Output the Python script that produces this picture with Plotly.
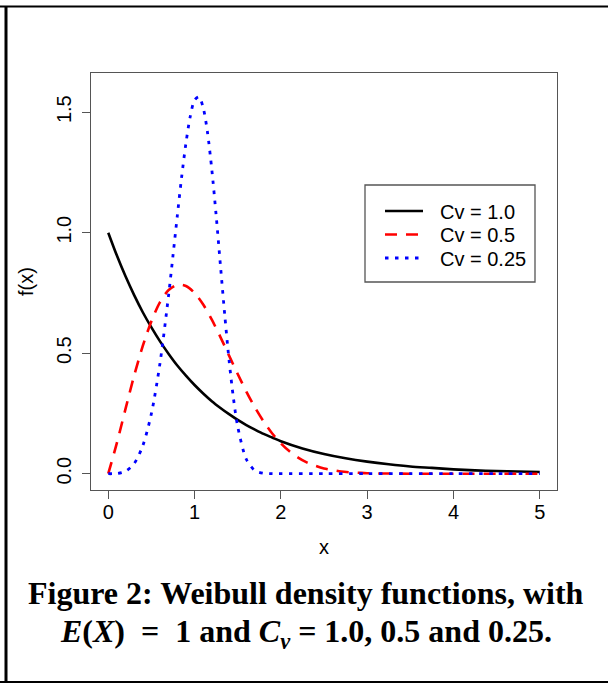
import plotly.graph_objects as go

# ---- data ----
x_cv100 = [0.0, 0.1, 0.2, 0.3, 0.4, 0.5, 0.6, 0.7, 0.8, 0.9, 1.0, 1.1, 1.2, 1.3, 1.4,
           1.5, 1.6, 1.7, 1.8, 1.9, 2.0, 2.25, 2.5, 2.75, 3.0, 3.25, 3.5, 3.75, 4.0,
           4.25, 4.5, 4.75, 5.0]
y_cv100 = [1.000, 0.905, 0.819, 0.741, 0.670, 0.607, 0.549, 0.497, 0.449, 0.407, 0.368,
           0.333, 0.301, 0.273, 0.247, 0.223, 0.202, 0.183, 0.165, 0.150, 0.135, 0.105,
           0.082, 0.064, 0.050, 0.039, 0.030, 0.024, 0.018, 0.014, 0.011, 0.009, 0.007]

x_cv050 = [0.0, 0.1, 0.2, 0.3, 0.4, 0.5, 0.6, 0.7, 0.8, 0.9, 1.0, 1.1, 1.2, 1.3, 1.4,
           1.5, 1.6, 1.7, 1.8, 1.9, 2.0, 2.1, 2.2, 2.3, 2.4, 2.5, 2.6, 2.7, 2.8, 2.9,
           3.0, 3.5, 4.0, 4.5, 5.0]
y_cv050 = [0.000, 0.128, 0.269, 0.407, 0.530, 0.633, 0.712, 0.762, 0.784, 0.779, 0.750,
           0.702, 0.639, 0.567, 0.490, 0.414, 0.341, 0.275, 0.217, 0.167, 0.126, 0.093,
           0.067, 0.047, 0.033, 0.022, 0.015, 0.009, 0.006, 0.004, 0.002, 0.000, 0.000,
           0.000, 0.000]

x_cv025 = [0.0, 0.1, 0.2, 0.3, 0.4, 0.5, 0.6, 0.7, 0.75, 0.8, 0.85, 0.9, 0.95, 1.0,
           1.05, 1.1, 1.15, 1.2, 1.25, 1.3, 1.35, 1.4, 1.45, 1.5, 1.6, 1.7, 1.8, 1.9,
           2.0, 2.5, 3.0, 3.5, 4.0, 4.5, 5.0]
y_cv025 = [0.000, 0.001, 0.010, 0.042, 0.116, 0.250, 0.460, 0.744, 0.905, 1.070, 1.230,
           1.371, 1.482, 1.550, 1.564, 1.519, 1.416, 1.262, 1.073, 0.864, 0.658, 0.471,
           0.315, 0.196, 0.060, 0.013, 0.002, 0.000, 0.000, 0.000, 0.000, 0.000, 0.000,
           0.000, 0.000]

series_names = ["Cv = 1.0", "Cv = 0.5", "Cv = 0.25"]
x_ticks = [0, 1, 2, 3, 4, 5]
y_ticks = [0.0, 0.5, 1.0, 1.5]
y_tick_labels = ["0.0", "0.5", "1.0", "1.5"]
caption_line1 = "Figure 2: Weibull density functions, with"
caption_line2 = ("<i>E</i>(<i>X</i>)\u00a0 =\u00a0 1 and <i>C<sub>v</sub></i>"
                 " = 1.0, 0.5 and 0.25.")

# ---- layout geometry (pixels) ----
W, H = 608, 684
L, R, T, B = 91, 557, 73, 490


def px(x):
    return (x - L) / (R - L)


def py(y):
    return (B - y) / (B - T)


SANS = "Liberation Sans, Arial, sans-serif"
SERIF = "Liberation Serif, Times New Roman, serif"
FS = 20

styles = [
    dict(color="#000000", width=2.6, dash="solid"),
    dict(color="#FF0000", width=2.6, dash="12px,9px"),
    dict(color="#0000FF", width=2.8, dash="3.5px,6.5px"),
]

fig = go.Figure()
for xs, ys, name, st in zip([x_cv100, x_cv050, x_cv025],
                            [y_cv100, y_cv050, y_cv025], series_names, styles):
    fig.add_trace(go.Scatter(x=xs, y=ys, mode="lines", name=name, showlegend=False,
                             line=dict(color=st["color"], width=st["width"],
                                       dash=st["dash"], shape="spline", smoothing=0.8)))

axis_common = dict(showgrid=False, zeroline=False, showline=True, mirror=True,
                   linecolor="#555555", linewidth=1.3, ticks="outside", ticklen=8,
                   tickwidth=1.2, tickcolor="#555555",
                   tickfont=dict(family=SANS, size=FS, color="#000000"))

fig.update_layout(
    width=W, height=H,
    margin=dict(l=L, r=W - R, t=T, b=H - B, autoexpand=False),
    paper_bgcolor="white", plot_bgcolor="white",
    xaxis=dict(range=[-0.2, 5.2], tickvals=x_ticks, ticktext=[str(v) for v in x_ticks],
               ticklabelstandoff=-4,
               title=dict(text="x", font=dict(family=SANS, size=FS, color="#000000"),
                          standoff=17),
               **axis_common),
    yaxis=dict(range=[-0.0676, 1.6627], tickvals=y_ticks, ticktext=y_tick_labels,
               tickangle=-90, ticklabelstandoff=3,
               title=dict(text="f(x)", font=dict(family=SANS, size=FS, color="#000000"),
                          standoff=13),
               **axis_common),
    showlegend=False,
)

shapes = []
# page frame lines (table cell borders)
shapes.append(dict(type="line", xref="paper", yref="paper", x0=px(0), x1=px(W),
                   y0=py(6.5), y1=py(6.5), line=dict(color="black", width=2)))
shapes.append(dict(type="line", xref="paper", yref="paper", x0=px(6), x1=px(6),
                   y0=py(6), y1=py(682), line=dict(color="black", width=3)))
shapes.append(dict(type="line", xref="paper", yref="paper", x0=px(0), x1=px(W),
                   y0=py(682), y1=py(682), line=dict(color="black", width=2)))
# legend box
shapes.append(dict(type="rect", xref="paper", yref="paper", x0=px(365), x1=px(535),
                   y0=py(185), y1=py(282), line=dict(color="#555555", width=1.3),
                   fillcolor="white", layer="above"))
rows = [211, 234.5, 258]
annotations = []
for name, st, ry in zip(series_names, styles, rows):
    shapes.append(dict(type="line", xref="paper", yref="paper", x0=px(385), x1=px(423),
                       y0=py(ry), y1=py(ry), layer="above",
                       line=dict(color=st["color"], width=st["width"], dash=st["dash"])))
    annotations.append(dict(xref="paper", yref="paper", x=px(438), y=py(ry + 0.5),
                            xanchor="left", yanchor="middle", showarrow=False,
                            text=name, font=dict(family=SANS, size=FS, color="black")))

annotations.append(dict(xref="paper", yref="paper", x=px(306), y=py(593),
                        xanchor="center", yanchor="middle", showarrow=False,
                        text="<b>" + caption_line1 + "</b>",
                        font=dict(family=SERIF, size=32, color="black")))
annotations.append(dict(xref="paper", yref="paper", x=px(306), y=py(633),
                        xanchor="center", yanchor="middle", showarrow=False,
                        text="<b>" + caption_line2 + "</b>",
                        font=dict(family=SERIF, size=32, color="black")))

fig.update_layout(shapes=shapes, annotations=annotations)
fig.write_html("out.html")
